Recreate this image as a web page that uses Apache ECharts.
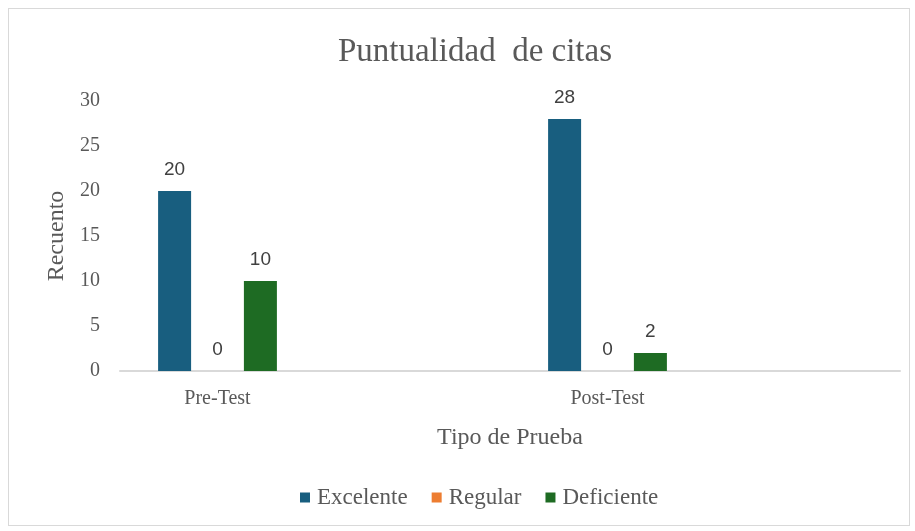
<!DOCTYPE html>
<html>
<head>
<meta charset="utf-8">
<script src="https://cdn.jsdelivr.net/npm/echarts@6/dist/echarts.min.js"></script>
<style>
  html, body { margin: 0; padding: 0; background: #fff; }
  #frame { position: absolute; left: 8px; top: 8px; width: 902px; height: 518px; border: 1px solid #d9d9d9; box-sizing: border-box; }
  #chart { position: absolute; left: 0; top: 0; width: 915px; height: 531px; }
</style>
</head>
<body>
<div id="frame"></div>
<div id="chart"></div>
<script>
// categorias (Excel dejó columnas vacías entre los grupos)
const categories = ['Pre-Test', '', 'Post-Test', ''];
const excelente = [20, null, 28, null];
const regular = [0, null, 0, null];
const deficiente = [10, null, 2, null];
const yTicks = { min: 0, max: 30, interval: 5 };

const serif = '"Liberation Serif", "Times New Roman", serif';
const sans = '"Liberation Sans", Arial, sans-serif';

const chart = echarts.init(document.getElementById('chart'));

const labelStyle = {
  show: true,
  position: 'top',
  distance: 12,
  fontFamily: sans,
  fontSize: 19,
  color: '#404040',
};

const mkSeries = (name, data, color) => ({
  name,
  type: 'bar',
  data,
  barWidth: 33,
  barGap: '30%',
  itemStyle: { color },
  label: labelStyle,
});

chart.setOption({
  animation: false,
  title: {
    text: 'Puntualidad  de citas',
    left: 470,
    textAlign: 'center',
    top: 31,
    textStyle: { fontFamily: serif, fontSize: 33, fontWeight: 'normal', color: '#595959' },
  },
  grid: { left: 120, right: 15, top: 101, bottom: 160 },
  legend: {
    bottom: 17,
    left: 295,
    itemWidth: 10,
    itemHeight: 10,
    itemGap: 24,
    icon: 'rect',
    textStyle: { fontFamily: serif, fontSize: 23, color: '#595959', padding: [0, 0, 0, 2] },
    data: ['Excelente', 'Regular', 'Deficiente'],
  },
  xAxis: {
    type: 'category',
    data: categories,
    name: 'Tipo de Prueba',
    nameLocation: 'middle',
    nameGap: 55,
    nameTextStyle: { fontFamily: serif, fontSize: 24, color: '#595959' },
    axisLine: { lineStyle: { color: '#d9d9d9', width: 2 } },
    axisTick: { show: false },
    axisLabel: { margin: 18, fontFamily: serif, fontSize: 20, color: '#595959' },
  },
  yAxis: {
    type: 'value',
    min: yTicks.min,
    max: yTicks.max,
    interval: yTicks.interval,
    name: 'Recuento',
    nameLocation: 'middle',
    nameGap: 50,
    nameTextStyle: { fontFamily: serif, fontSize: 24, color: '#595959' },
    axisLine: { show: false },
    axisTick: { show: false },
    splitLine: { show: false },
    axisLabel: { margin: 20, fontFamily: serif, fontSize: 20, color: '#595959' },
  },
  series: [
    mkSeries('Excelente', excelente, '#185e7f'),
    mkSeries('Regular', regular, '#ed7d31'),
    mkSeries('Deficiente', deficiente, '#1e6b23'),
  ],
});
</script>
</body>
</html>
